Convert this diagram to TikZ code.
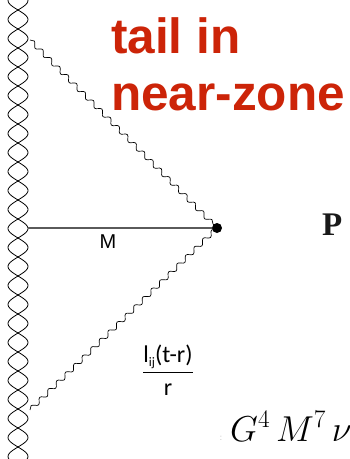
\RequirePackage{fix-cm}
\documentclass[tikz,border=0pt]{standalone}
\usepackage{fontspec}
\usepackage{amsmath}
\setmainfont{Liberation Sans}
\newfontfamily\carl{Carlito}
\newfontfamily\serifb{Liberation Serif}
\usetikzlibrary{decorations.pathmorphing}
\definecolor{tailred}{RGB}{204,36,8}
\definecolor{lineg}{RGB}{90,90,90}
\begin{document}
\begin{tikzpicture}[x=1pt,y=-1pt,
  wavy/.style={decorate, decoration={snake, segment length=12pt, amplitude=2.3pt}, line width=0.7pt},
  braid/.style={line width=0.8pt},
  bigred/.style={anchor=base west, inner sep=0pt, text=tailred, font=\fontsize{49.5}{55}\selectfont\bfseries}]
\useasboundingbox (0,0) rectangle (349,459);
\clip (0,0) rectangle (349,459);
% crossed boundary
\draw[braid] plot[variable=\t, domain=-6:466, samples=300, smooth] ({18+10*sin(9.4737*(\t-10))}, \t);
\draw[braid] plot[variable=\t, domain=-6:466, samples=300, smooth] ({18-10*sin(9.4737*(\t-10))}, \t);
% points
\coordinate (tl) at (30,40);
\coordinate (bl) at (30,410);
\coordinate (ml) at (28,228);
\node[circle, fill=black, inner sep=0pt, minimum size=10pt] (dot) at (217,228) {};
\draw[lineg, line width=1.2pt] (ml) -- (dot);
\draw[wavy] (tl) -- (dot.center);
\draw[wavy] (bl) -- (dot.center);
\node[anchor=base, inner sep=0pt, font=\fontsize{20}{24}\selectfont] (mlab) at (108,248) {M};
\node[inner sep=0pt, font=\fontsize{24}{28}\selectfont] (frac) at (168,370)
  {$\dfrac{\hbox{\carl l\raisebox{-0.35ex}{\fontsize{13}{15}\selectfont ij}(t-r)}}{\hbox{\carl r}}$};
% titles
\node[bigred] (t1) at (111,53) {tail in};
\node[bigred] (t2) at (111,110) {near-zone};
\node[anchor=base west, inner sep=0pt, font=\serifb\bfseries\fontsize{33}{36}\selectfont, text=black!90] (P) at (322,235) {P};
\node[anchor=base west, inner sep=0pt, font=\fontsize{36}{40}\selectfont] (G) at (230,441) {$G^{4}\,M^{7}\,\nu$};
\node[anchor=base, inner sep=0pt, text=gray!60, font=\fontsize{8}{9}\selectfont] (col) at (221,440) {:};
\end{tikzpicture}
\end{document}
